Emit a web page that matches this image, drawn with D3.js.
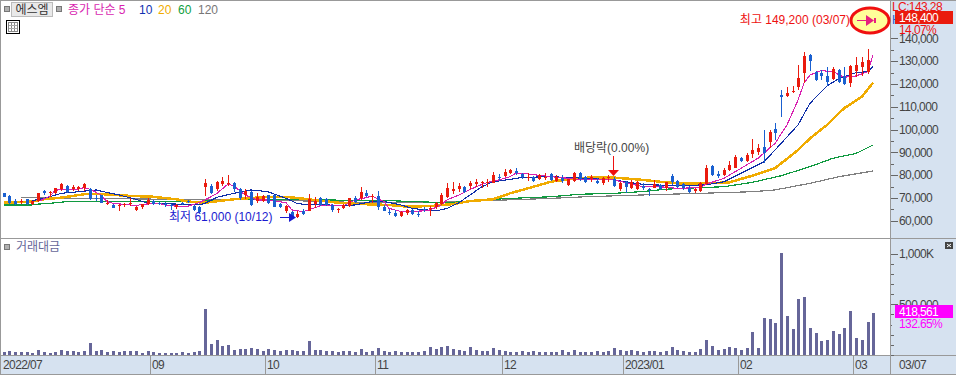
<!DOCTYPE html>
<html>
<head>
<meta charset="utf-8">
<script src="https://cdn.jsdelivr.net/npm/d3@7"></script>
<style>
  html, body { margin: 0; padding: 0; background: #fff; overflow: hidden; }
  text { font-family: "Liberation Sans", "Noto Sans CJK KR", sans-serif; font-size: 12px; }
  .num { letter-spacing: -0.6px; }
  .axis path { display: none; }
</style>
</head>
<body>
<div id="chart"></div>
<script>
const WIDTH = 956;
const HEIGHT = 375;

// prices are in thousand won
const opens = [
  72.0,70.8,68.8,68.1,69.4,67.3,68.5,73.2,72.0,72.0,
  73.8,75.2,73.8,73.9,74.5,74.0,70.1,71.1,67.2,67.0,
  66.4,66.9,67.2,64.7,65.9,67.3,68.6,67.6,67.2,67.0,
  65.9,67.9,68.6,66.6,66.2,74.9,75.4,73.8,75.9,76.2,
  76.4,74.0,71.1,72.6,68.8,68.5,71.1,71.1,67.3,64.4,
  64.0,61.5,64.1,64.4,67.3,69.8,69.4,66.9,64.6,65.6,
  66.5,69.8,69.8,72.3,70.5,70.8,66.2,63.8,63.2,62.1,
  63.2,64.7,62.9,65.0,65.0,65.9,67.3,70.5,73.0,73.8,
  74.9,75.2,76.1,76.4,76.4,76.7,79.3,79.7,80.8,81.9,
  80.5,78.9,79.3,78.1,78.9,80.5,77.6,78.9,75.5,77.6,
  81.1,79.3,78.4,77.6,76.4,78.9,78.4,74.0,77.0,74.3,
  73.8,75.4,73.8,74.5,75.7,74.2,79.6,77.4,76.0,74.5,
  73.0,73.0,76.0,84.1,80.6,80.0,82.1,83.3,87.6,86.2,
  89.1,90.3,92.5,94.7,100.2,115.1,114.5,116.6,118.5,124.9,
  132.7,125.4,124.9,123.5,122.0,126.1,123.5,120.5,125.5,127.6,125.2
];
const highs = [
  72.3,71.1,69.4,69.4,69.7,68.6,72.3,73.5,73.0,74.5,
  76.7,75.8,75.8,75.4,76.4,74.3,71.1,71.4,69.1,67.3,
  67.2,67.9,70.1,66.4,67.5,70.1,69.1,68.4,68.1,67.2,
  67.2,68.4,69.1,66.9,66.4,78.1,75.9,77.6,79.3,80.0,
  77.0,74.3,74.0,73.2,72.0,71.4,71.4,71.4,67.6,66.7,
  64.4,64.4,65.0,71.7,70.3,70.3,69.8,67.3,65.7,67.3,
  70.1,70.8,74.6,73.5,71.7,73.0,66.9,65.0,64.7,64.3,
  65.1,65.1,64.3,66.2,66.5,68.2,72.0,76.7,77.0,76.4,
  75.4,77.6,78.1,77.4,78.1,81.4,80.3,82.5,82.8,83.1,
  81.1,80.8,79.6,80.5,81.1,80.8,79.9,79.9,78.4,81.4,
  81.5,79.6,80.0,78.6,79.0,80.2,79.0,77.0,77.3,77.9,
  77.6,76.4,74.2,77.7,76.0,77.1,80.6,77.9,76.7,75.2,
  74.5,76.8,84.4,84.4,81.8,83.0,86.2,88.8,88.0,89.8,
  95.8,93.5,99.8,99.8,103.0,117.3,118.5,119.1,128.3,134.0,
  133.1,125.8,126.1,127.6,127.6,126.4,127.6,128.3,131.7,131.7,135.2
];
const lows = [
  70.3,67.2,66.7,67.3,66.7,66.9,68.4,71.3,70.5,71.7,
  73.2,72.2,73.2,73.2,73.2,69.1,68.5,67.6,66.7,65.4,
  64.3,66.2,66.4,64.3,65.1,66.9,66.9,66.7,65.9,64.7,
  65.3,67.0,67.6,64.3,63.5,70.8,71.7,73.2,75.2,75.2,
  72.7,69.1,69.5,66.4,67.6,68.2,67.2,65.9,65.4,63.2,
  61.2,61.0,62.5,64.1,65.4,66.4,66.5,64.0,63.5,65.1,
  66.2,67.9,69.1,70.3,67.6,64.7,64.1,62.5,61.5,61.8,
  62.5,62.4,61.5,64.0,62.1,65.3,66.9,69.8,71.7,72.4,
  72.0,73.8,74.6,74.2,74.9,76.4,77.6,79.3,80.3,80.2,
  78.1,77.6,77.0,77.9,77.9,77.3,77.1,76.7,75.2,77.1,
  77.6,76.4,77.1,76.0,75.8,77.1,74.6,73.2,72.3,73.8,
  73.5,73.5,71.0,74.2,73.5,73.2,75.7,74.5,73.6,72.1,
  72.0,72.6,75.7,79.6,78.6,79.5,81.8,83.0,85.9,85.9,
  87.4,88.8,85.4,92.0,95.4,105.3,114.1,116.2,117.3,120.2,
  125.8,121.4,121.7,119.1,121.7,120.2,119.4,118.8,123.2,123.5,124.4
];
const closes = [
  70.3,67.6,67.2,68.8,67.2,68.5,72.0,72.0,72.4,74.2,
  76.1,72.4,74.6,74.6,76.1,69.7,69.7,67.9,67.6,65.7,
  66.7,67.3,67.6,66.0,67.2,69.1,67.2,67.2,66.7,66.7,
  66.9,67.6,68.2,64.7,63.9,76.4,72.3,77.1,77.4,76.5,
  73.8,69.8,72.9,66.9,70.3,70.8,67.8,66.2,65.9,66.4,
  61.5,62.8,62.8,69.7,68.8,66.9,66.9,64.7,65.0,66.9,
  70.0,68.4,72.6,70.8,71.0,65.9,64.4,63.5,62.2,64.0,
  64.7,62.8,62.5,64.7,65.4,67.6,71.3,74.2,73.8,75.4,
  72.6,76.7,76.8,77.1,77.1,80.0,78.9,81.5,82.2,80.8,
  79.3,79.3,77.4,80.0,79.3,77.9,79.3,77.6,78.1,81.1,
  78.1,76.8,79.0,76.7,78.7,79.3,75.2,76.7,74.6,77.1,
  77.1,74.2,73.3,76.0,73.9,76.8,77.1,75.0,74.2,72.7,
  73.9,76.4,83.3,80.0,79.8,82.4,84.4,88.0,86.3,88.8,
  91.0,92.0,89.5,99.0,98.3,114.4,116.0,117.0,122.4,132.2,
  130.0,121.7,123.5,121.0,126.4,121.0,120.0,127.9,128.3,129.6,130.5
];

// trading value in thousands, one bar per day (152, the last candle is hidden behind the marker)
const volumes = [
  30,40,30,30,30,23,49,30,23,30,49,40,40,30,40,119,40,49,30,40,
  30,40,40,40,20,40,30,20,20,20,20,30,20,30,40,455,109,148,89,99,
  49,59,59,69,59,40,59,49,40,49,49,40,40,138,49,49,40,40,30,40,
  40,30,59,30,40,69,40,30,40,30,30,30,30,40,79,59,79,89,59,49,
  40,79,49,40,40,69,49,40,30,30,40,30,40,30,30,30,30,49,30,49,
  30,30,30,40,30,40,69,49,40,49,40,30,40,40,30,40,79,49,40,30,
  30,59,148,89,49,59,79,69,49,69,227,69,366,356,316,1008,385,257,553,573,
  267,217,138,148,237,207,267,435,168,148,326,418.561
];

// moving averages as [day index, price], read at the bends of each line
const ma5 = [[6,68.4],[8,70.8],[9,73.2],[10,73.8],[13,73.8],[14,74.5],[15,73.8],[17,71.3],[18,68.4],[19,67.6],[21,67.2],[23,66.6],[24,67.2],[27,67.6],[28,66.9],[30,66.4],[32,66.4],[34,67.9],[35,69.1],[37,72.0],[39,76.1],[40,75.2],[42,71.3],[44,69.1],[46,69.1],[49,67.9],[50,64.7],[52,64.0],[54,65.7],
  [55,66.5],[57,66.9],[59,66.5],[61,69.1],[63,70.1],[64,70.8],[66,68.4],[67,65.4],[69,64.0],[73,64.3],[74,64.7],[76,66.9],[77,69.1],[79,71.3],[82,74.9],[84,76.7],[86,77.9],[88,79.3],[89,80.8],[91,80.5],[95,79.3],[98,78.6],[101,77.9],[106,77.9],
  [111,74.9],[114,74.9],[117,74.2],[121,74.5],[122,76.0],[125,78.6],[128,83.0],[131,87.4],[134,93.9],[136,102.0],[138,112.9],[139,120.3],[140,123.9],[142,125.8],[144,125.4],[146,122.9],[148,123.5],[150,125.4],[151,132.7]];
const ma10 = [[5,68.8],[7,69.8],[10,72.0],[13,72.7],[16,73.5],[18,72.4],[20,71.3],[23,69.4],[25,67.6],[30,67.3],[34,66.9],[35,67.6],[37,70.3],[40,72.0],[43,73.5],[46,72.7],[49,69.8],[51,67.6],[53,66.9],
  [55,67.3],[58,66.5],[61,66.9],[64,68.4],[66,68.4],[69,66.9],[71,65.4],[75,64.3],[77,65.4],[79,67.9],[81,71.3],[83,74.9],[85,77.1],[88,78.1],[90,79.0],[95,79.3],[101,78.6],[106,77.9],
  [111,75.9],[116,75.4],[122,75.7],[125,77.1],[128,80.8],[132,85.9],[134,91.0],[138,102.0],[140,111.5],[143,119.1],[145,122.4],[148,124.9],[150,125.4],[151,127.6]];
const ma20 = [[0,67.9],[5,68.4],[7,69.4],[10,70.1],[14,71.6],[17,71.7],[21,71.0],[26,70.5],[30,69.4],[32,68.4],[35,67.9],[38,68.8],[40,69.4],[45,70.3],[49,70.5],
  [55,68.8],[58,67.9],[62,67.3],[67,66.9],[70,66.2],[74,66.4],[78,67.3],[81,68.6],[85,69.4],[88,72.0],[91,74.2],[95,77.1],[98,78.1],[102,79.0],[106,78.9],[111,77.9],
  [114,77.1],[118,76.2],[122,76.4],[126,76.8],[130,79.7],[134,83.0],[138,91.0],[140,96.1],[143,102.0],[146,109.3],[149,114.4],[151,120.5]];
const ma60 = [[0,66.9],[5,66.9],[6,67.3],[8,67.6],[11,68.4],[19,68.4],[27,68.4],[35,68.6],[40,69.4],[52,69.4],
  [55,69.1],[67,68.8],[71,68.4],[77,67.9],[80,68.4],[85,69.4],[90,70.0],[95,70.5],[100,71.6],[106,72.0],
  [111,72.8],[115,73.8],[118,74.2],[125,74.9],[130,76.8],[135,79.7],[140,83.7],[144,87.4],[148,89.5],[151,93.2]];
const ma120 = [[3,70.1],[14,69.8],[28,69.4],[40,69.4],[55,68.5],[62,67.9],[74,67.9],[84,68.8],[95,69.8],[101,70.5],[111,71.3],[121,72.0],[130,72.7],[134,73.5],[140,76.4],[145,79.3],[151,81.8]];

const priceTicks = [60,70,80,90,100,110,120,130,140];
const priceMinor = [65,75,85,95,105,115,125,135];
const volumeTicks = [500,1000];
const volumeMinor = [0,100,200,300,400,600,700,800,900];
const monthIdx = [26,46,65,87,108,128,148];
const monthLabels = ["09","10","11","12","2023/01","02","03"];
const legendItems = [
  { label: "종가 단순 5", x: 68, color: "#d81fb0" },
  { label: "10", x: 139, color: "#1030b0" },
  { label: "20", x: 158, color: "#f0ab00" },
  { label: "60", x: 178, color: "#10a040" },
  { label: "120", x: 198, color: "#777777" }
];

const RED = "#ea1b0e";
const BLUE = "#1a60d0";
const PANEL = "#d6e2f0";
const BORDER = "#999999";
const PLOT_RIGHT = 890;

const svg = d3.select("#chart").append("svg").attr("width", WIDTH).attr("height", HEIGHT).style("display", "block");

const x = d3.scaleLinear().domain([0, 151]).range([3.5, 873.3]);
const y = d3.scaleLinear().domain([60, 140]).range([220.7, 38.3]);
const yVol = d3.scaleLinear().domain([0, 1000]).range([355, 253.5]);
const px = i => Math.round(x(i));

// background panels
svg.append("rect").attr("x", PLOT_RIGHT).attr("y", 0).attr("width", WIDTH - PLOT_RIGHT).attr("height", HEIGHT).attr("fill", PANEL);
svg.append("rect").attr("x", 0).attr("y", 356).attr("width", WIDTH).attr("height", 19).attr("fill", PANEL);

// moving averages go under the candles
const line = d3.line().x(d => px(d[0])).y(d => y(d[1]));
const chartLines = svg.append("g").attr("fill", "none").attr("shape-rendering", "crispEdges");
[
  [ma120, "#808080", 1.2],
  [ma60, "#109a40", 1.2],
  [ma20, "#f0ab00", 2.5],
  [ma10, "#0f2fa8", 1.1],
  [ma5, "#d81fb0", 1.1]
].forEach(([data, color, w]) => {
  chartLines.append("path").attr("d", line(data)).attr("stroke", color).attr("stroke-width", w);
});

// candles
const candles = svg.append("g").attr("shape-rendering", "crispEdges");
const days = d3.range(opens.length);
const candleColor = i => closes[i] >= opens[i] ? RED : BLUE;
candles.selectAll("line").data(days).enter().append("line")
  .attr("x1", i => px(i) + 0.5).attr("x2", i => px(i) + 0.5)
  .attr("y1", i => y(highs[i])).attr("y2", i => y(lows[i]))
  .attr("stroke", candleColor);
candles.selectAll("rect").data(days).enter().append("rect")
  .attr("x", i => px(i) - 1)
  .attr("width", 3)
  .attr("y", i => y(Math.max(opens[i], closes[i])))
  .attr("height", i => Math.max(1, Math.abs(y(opens[i]) - y(closes[i]))))
  .attr("fill", candleColor);

// trading value bars
svg.append("g").attr("shape-rendering", "crispEdges").selectAll("rect").data(volumes).enter().append("rect")
  .attr("x", (d, i) => px(i) - 1)
  .attr("width", 3)
  .attr("y", d => yVol(d))
  .attr("height", d => yVol(0) - yVol(d))
  .attr("fill", "#666699");

// frame lines
const frame = svg.append("g").attr("stroke", BORDER).attr("shape-rendering", "crispEdges");
[
  [0.5, 0, 0.5, 375],
  [0, 0.5, WIDTH, 0.5],
  [0, 238.5, WIDTH, 238.5],
  [PLOT_RIGHT + 0.5, 0, PLOT_RIGHT + 0.5, 356],
  [0, 355.5, WIDTH, 355.5],
  [0, 374.5, WIDTH, 374.5],
  [PLOT_RIGHT + 0.5, 356, PLOT_RIGHT + 0.5, 375]
].forEach(p => frame.append("line").attr("x1", p[0]).attr("y1", p[1]).attr("x2", p[2]).attr("y2", p[3]));

// right axes
function drawAxis(scale, ticks, minor, fmt) {
  const g = svg.append("g").attr("class", "axis").attr("transform", `translate(${PLOT_RIGHT + 1},0)`);
  g.append("g").call(d3.axisRight(scale).tickValues(minor).tickSize(3).tickFormat(""))
    .selectAll("line").attr("stroke", "#666").attr("shape-rendering", "crispEdges");
  const major = g.append("g").call(d3.axisRight(scale).tickValues(ticks).tickSize(7).tickPadding(1).tickFormat(fmt));
  major.attr("font-family", null).attr("font-size", null);
  major.selectAll("line").attr("stroke", "#666").attr("shape-rendering", "crispEdges");
  major.selectAll("text").attr("class", "num").attr("fill", "#444");
}
drawAxis(y, priceTicks, priceMinor, d => d3.format(",")(d * 1000));
drawAxis(yVol, volumeTicks, volumeMinor, d => d === 1000 ? "1,000K" : d3.format(",")(d * 1000));

// month ticks along the bottom
const months = svg.append("g");
months.selectAll("line").data(monthIdx).enter().append("line")
  .attr("x1", i => px(i) - 2.5).attr("x2", i => px(i) - 2.5)
  .attr("y1", 356).attr("y2", 374)
  .attr("stroke", BORDER).attr("shape-rendering", "crispEdges");
months.selectAll("text").data(monthIdx).enter().append("text")
  .attr("class", "num")
  .attr("x", i => px(i) - 1)
  .attr("y", 369)
  .attr("fill", "#444")
  .text((i, n) => monthLabels[n]);
svg.append("text").attr("class", "num").attr("x", 3).attr("y", 369).attr("fill", "#444").text("2022/07");
svg.append("text").attr("class", "num").attr("x", 899).attr("y", 369).attr("fill", "#444").text("03/07");

// header
function smallSquare(sx, sy) {
  svg.append("rect").attr("x", sx + 0.5).attr("y", sy + 0.5).attr("width", 5).attr("height", 5)
    .attr("fill", "#b0b0b0").attr("stroke", "#777").attr("shape-rendering", "crispEdges");
}
smallSquare(4, 6);
svg.append("rect").attr("x", 11.5).attr("y", 2.5).attr("width", 41).attr("height", 14)
  .attr("fill", "#e9e9e9").attr("stroke", "#bbb").attr("shape-rendering", "crispEdges");
svg.append("text").attr("x", 32).attr("y", 14).attr("text-anchor", "middle").attr("fill", "#333").text("에스엠");
smallSquare(56, 6);
legendItems.forEach(d => {
  svg.append("text").attr("x", d.x).attr("y", 14).attr("fill", d.color).text(d.label);
});

// table icon
const icon = svg.append("g").attr("shape-rendering", "crispEdges");
icon.append("rect").attr("x", 6.5).attr("y", 20.5).attr("width", 13).attr("height", 13).attr("fill", "#fff").attr("stroke", "#000");
icon.append("rect").attr("x", 8.5).attr("y", 22.5).attr("width", 9).attr("height", 9).attr("fill", "none").attr("stroke", "#888");
[11.5, 14.5].forEach(v => icon.append("line").attr("x1", v).attr("x2", v).attr("y1", 23).attr("y2", 31).attr("stroke", "#888"));
[25.5, 28.5].forEach(v => icon.append("line").attr("y1", v).attr("y2", v).attr("x1", 9).attr("x2", 17).attr("stroke", "#aaa"));

// volume pane title and close box
smallSquare(4, 244);
svg.append("text").attr("x", 16).attr("y", 251).attr("fill", "#666699").text("거래대금");
svg.append("rect").attr("x", 945).attr("y", 242).attr("width", 8).attr("height", 7).attr("fill", "#444");
svg.append("path").attr("d", "M947,244 L951,247 M951,244 L947,247").attr("stroke", "#fff").attr("stroke-width", 1);

// annotations
svg.append("text").attr("x", 850).attr("y", 24).attr("text-anchor", "end").attr("fill", "#ee1111").text("최고 149,200 (03/07)");
svg.append("text").attr("x", 169).attr("y", 221).attr("fill", "#1a1ad0").text("최저 61,000 (10/12)");
svg.append("line").attr("x1", 280).attr("x2", 292).attr("y1", 217.5).attr("y2", 217.5).attr("stroke", "#1a1ad0").attr("stroke-width", 1);
svg.append("path").attr("d", "M289,213 L296,217.5 L289,222 Z").attr("fill", "#1a1ad0");

svg.append("text").attr("x", 574).attr("y", 152).attr("fill", "#444").text("배당락(0.00%)");
svg.append("line").attr("x1", 613.5).attr("x2", 613.5).attr("y1", 156).attr("y2", 170).attr("stroke", "#ee1111").attr("shape-rendering", "crispEdges");
svg.append("path").attr("d", "M608,170 L619,170 L613.5,176 Z").attr("fill", "#ee1111");

// off-chart marker for the last candle
svg.append("ellipse").attr("cx", 870).attr("cy", 20.5).attr("rx", 19).attr("ry", 12.5)
  .attr("fill", "#ffff99").attr("stroke", "#f01010").attr("stroke-width", 3);
svg.append("line").attr("x1", 857).attr("x2", 870).attr("y1", 20.5).attr("y2", 20.5).attr("stroke", "#e6207f");
svg.append("path").attr("d", "M866,15 L874,20.5 L866,26 Z").attr("fill", "#e6207f");
svg.append("rect").attr("x", 874).attr("y", 18).attr("width", 2).attr("height", 5).attr("fill", "#e6207f");

// right side value boxes, painted over the axis labels
svg.append("text").attr("class", "num").attr("x", 892).attr("y", 11).attr("fill", "#ee1111").text("LC:143.28");
svg.append("text").attr("class", "num").attr("x", 892).attr("y", 24).attr("fill", "#1a60d0").text("H");
svg.append("rect").attr("x", 892).attr("y", 24).attr("width", 62).attr("height", 10).attr("fill", PANEL);
svg.append("text").attr("class", "num").attr("x", 899).attr("y", 33.5).attr("fill", "#ee1111").text("14.07%");
svg.append("rect").attr("x", 895).attr("y", 11).attr("width", 58).attr("height", 13).attr("fill", "#ea1b0e");
svg.append("text").attr("class", "num").attr("x", 899).attr("y", 22).attr("fill", "#fff").text("148,400");

svg.append("rect").attr("x", 892).attr("y", 318).attr("width", 62).attr("height", 11).attr("fill", PANEL);
svg.append("text").attr("class", "num").attr("x", 899).attr("y", 328).attr("fill", "#ff00ff").text("132.65%");
svg.append("rect").attr("x", 895).attr("y", 305).attr("width", 58).attr("height", 13).attr("fill", "#ff00ff");
svg.append("text").attr("class", "num").attr("x", 899).attr("y", 316).attr("fill", "#fff").text("418,561");
</script>
</body>
</html>
